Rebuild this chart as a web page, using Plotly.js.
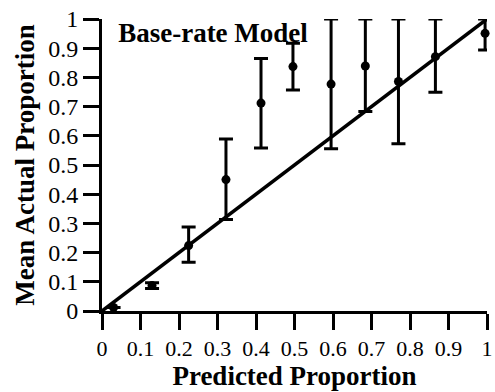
<!DOCTYPE html>
<html>
<head>
<meta charset="utf-8">
<script src="https://cdn.plot.ly/plotly-3.0.1.min.js"></script>
<style>html,body{margin:0;padding:0;background:#fff;} #chart{width:495px;height:392px;}</style>
</head>
<body>
<div id="chart"></div>
<script>
// Data
var predicted = [0.03, 0.13, 0.225, 0.322, 0.413, 0.496, 0.595, 0.684, 0.770, 0.866, 0.995];
var actual    = [0.012, 0.087, 0.224, 0.45, 0.712, 0.837, 0.777, 0.839, 0.786, 0.871, 0.951];
var errPlus   = [0.0, 0.01, 0.064, 0.139, 0.153, 0.08, 0.223, 0.161, 0.214, 0.129, 0.049];
var errMinus  = [0.0, 0.01, 0.057, 0.137, 0.154, 0.08, 0.221, 0.156, 0.213, 0.122, 0.057];
var diagX = [0, 1];
var diagY = [0, 1];
var tickVals = [0, 0.1, 0.2, 0.3, 0.4, 0.5, 0.6, 0.7, 0.8, 0.9, 1];
var tickText = ["0", "0.1", "0.2", "0.3", "0.4", "0.5", "0.6", "0.7", "0.8", "0.9", "1"];

var serif = "Liberation Serif, Times New Roman, serif";

var traces = [
  {
    x: diagX, y: diagY, type: "scatter", mode: "lines",
    line: {color: "#000", width: 3.5}, hoverinfo: "skip", cliponaxis: false
  },
  {
    x: predicted, y: actual, type: "scatter", mode: "markers",
    marker: {color: "#000", size: 9},
    error_y: {type: "data", symmetric: false, array: errPlus, arrayminus: errMinus,
              color: "#000", thickness: 3, width: 7},
    cliponaxis: false
  }
];

var axisCommon = {
  range: [0, 1], tickvals: tickVals, ticktext: tickText,
  showgrid: false, zeroline: false, showline: true, linecolor: "#000", linewidth: 3,
  ticks: "outside", ticklen: 16, tickwidth: 3, tickcolor: "#000"
};

var layout = {
  width: 495, height: 392,
  margin: {l: 102, r: 8, t: 19, b: 81},
  paper_bgcolor: "#fff", plot_bgcolor: "#fff",
  showlegend: false,
  title: {text: "<b>Base-rate Model</b>", xref: "paper", x: 0.042, xanchor: "left",
          yref: "container", y: 0.916, yanchor: "middle",
          font: {family: serif, size: 27, color: "#000"}},
  xaxis: Object.assign({}, axisCommon, {
    tickfont: {family: serif, size: 22, color: "#000"},
    title: {text: "<b>Predicted Proportion</b>", standoff: 6,
            font: {family: serif, size: 27, color: "#000"}}
  }),
  yaxis: Object.assign({}, axisCommon, {
    tickfont: {family: serif, size: 24, color: "#000"},
    title: {text: "<b>Mean Actual Proportion</b>", standoff: 6,
            font: {family: serif, size: 27, color: "#000"}}
  })
};

Plotly.newPlot("chart", traces, layout, {staticPlot: true, displayModeBar: false});
</script>
</body>
</html>
